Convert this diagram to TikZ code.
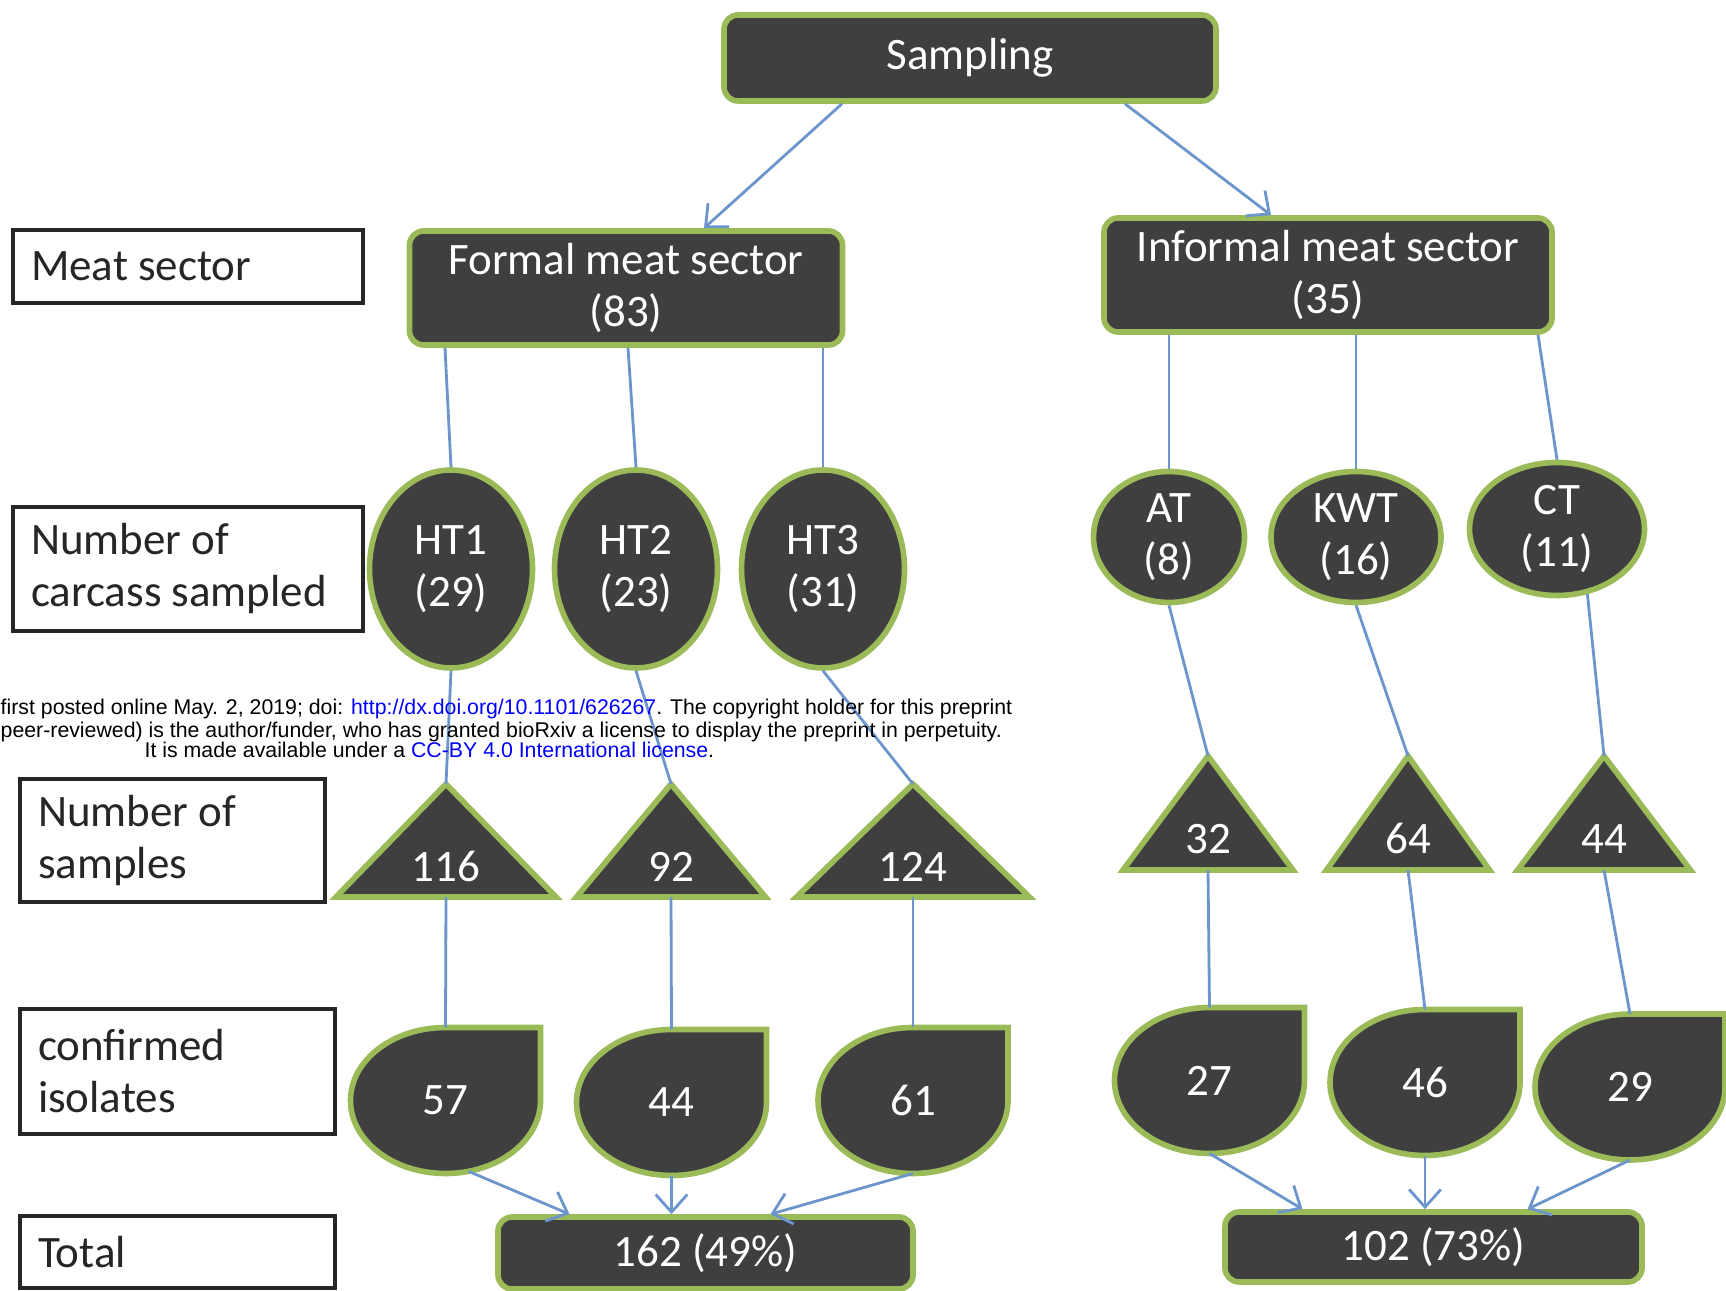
\documentclass[tikz,border=0pt]{standalone}
\usepackage{fontspec}
\setmainfont{Carlito}
\newfontfamily\wmfont{Liberation Sans}
\usetikzlibrary{calc,backgrounds,shapes.geometric,arrows.meta}

\definecolor{boxfill}{HTML}{3F3F3F}
\definecolor{boxrim}{HTML}{9BBB59}
\definecolor{linkblue}{HTML}{6C95CB}
\definecolor{labelink}{HTML}{262626}
\definecolor{wmblue}{HTML}{0000FF}

\newcommand{\nodefont}{\fontsize{12.8}{14.8}\selectfont}

\tikzset{
  dark/.style={fill=boxfill, draw=boxrim, line width=1.6pt},
  darkbox/.style={dark, rectangle, rounded corners=4pt, align=center,
    inner sep=0pt, text=white, font=\nodefont},
  site/.style={dark, ellipse, inner sep=0pt, align=center, text=white, font=\nodefont},
  tri/.style={rectangle, inner sep=0pt, outer sep=0pt, text height=0.82cm,
    text depth=0pt, text=white, font=\nodefont},
  drop/.style={ellipse, inner sep=0pt, outer sep=0pt, minimum width=1.9cm,
    minimum height=1.46cm, text=white, font=\nodefont},
  rowlabel/.style={draw=labelink, line width=1pt, fill=white, text=labelink,
    align=flush left, inner xsep=0.18cm, inner ysep=0pt, font=\nodefont,
    execute at begin node={\spaceskip=0pt\xspaceskip=0pt\relax}},
  link/.style={draw=linkblue, line width=0.8pt},
  arr/.style={link, -{Straight Barb[length=5pt,width=9pt]}},
  wmark/.style={inner sep=0pt, anchor=base west, font=\wmfont\fontsize{6.06}{7}\selectfont}
}

\begin{document}
\begin{tikzpicture}
\useasboundingbox (0,0) rectangle (17.26,12.90);

% top of the tree
\node[darkbox, minimum width=4.92cm, minimum height=0.86cm] (sampling) at (9.70,12.32) {Sampling};
\node[darkbox, minimum width=4.33cm, minimum height=1.14cm] (formal) at (6.26,10.02) {Formal meat sector\\(83)};
\node[darkbox, minimum width=4.48cm, minimum height=1.14cm] (informal) at (13.28,10.15) {Informal meat sector\\(35)};

% row labels on the left
\node[rowlabel, text width=3.14cm, minimum height=0.73cm] (lab-sector) at (1.88,10.235) {Meat sector};
\node[rowlabel, text width=3.14cm, minimum height=1.24cm] (lab-carcass) at (1.88,7.21) {Number of\\carcass sampled};
\node[rowlabel, text width=2.69cm, minimum height=1.23cm] (lab-samples) at (1.725,4.495) {Number of\\samples};
\node[rowlabel, text width=2.79cm, minimum height=1.25cm] (lab-isolates) at (1.775,2.185) {confirmed\\isolates};
\node[rowlabel, text width=2.79cm, minimum height=0.72cm] (lab-total) at (1.775,0.38) {Total};

% carcasses per site
\node[site, minimum width=1.63cm, minimum height=1.98cm] (h1) at (4.51,7.21) {HT1\\(29)};
\node[site, minimum width=1.63cm, minimum height=1.98cm] (h2) at (6.36,7.21) {HT2\\(23)};
\node[site, minimum width=1.63cm, minimum height=1.98cm] (h3) at (8.23,7.21) {HT3\\(31)};
\node[site, minimum width=1.51cm, minimum height=1.31cm] (at) at (11.69,7.53) {AT\\(8)};
\node[site, minimum width=1.70cm, minimum height=1.31cm] (kwt) at (13.56,7.53) {KWT\\(16)};
\node[site, minimum width=1.75cm, minimum height=1.33cm] (ct) at (15.57,7.61) {CT\\(11)};

% samples
\node[tri, minimum width=2.20cm, minimum height=1.13cm] (t1) at (4.46,4.495) {116};
\node[tri, minimum width=1.89cm, minimum height=1.13cm] (t2) at (6.71,4.495) {92};
\node[tri, minimum width=2.33cm, minimum height=1.13cm] (t3) at (9.13,4.495) {124};
\node[tri, minimum width=1.70cm, minimum height=1.14cm] (t4) at (12.08,4.77) {32};
\node[tri, minimum width=1.63cm, minimum height=1.14cm] (t5) at (14.08,4.77) {64};
\node[tri, minimum width=1.73cm, minimum height=1.14cm] (t6) at (16.04,4.77) {44};

% isolates
\node[drop] (d1) at (4.455,1.895) {57};
\node[drop] (d2) at (6.715,1.875) {44};
\node[drop] (d3) at (9.13,1.895) {61};
\node[drop] (d4) at (12.095,2.095) {27};
\node[drop] (d5) at (14.25,2.075) {46};
\node[drop] (d6) at (16.30,2.03) {29};

% totals
\node[darkbox, minimum width=4.15cm, minimum height=0.72cm] (tot1) at (7.055,0.37) {162 (49\%)};
\node[darkbox, minimum width=4.17cm, minimum height=0.70cm] (tot2) at (14.335,0.43) {102 (73\%)};

\begin{scope}[on background layer]
  \foreach \t in {t1,t2,t3,t4,t5,t6}
    \draw[dark] (\t.south west) -- (\t.north) -- (\t.south east) -- cycle;
  \foreach \d in {d1,d2,d3,d4,d5,d6}
    \draw[dark] (\d.north) -- (\d.north -| \d.east) -- (\d.east)
      arc[start angle=0, end angle=-270, x radius=0.95cm, y radius=0.73cm] -- cycle;
\end{scope}

\draw[arr] ($(sampling.south)+(-1.28,0)$) -- ($(formal.north)+(0.78,0)$);
\draw[arr] ($(sampling.south)+(1.55,0)$) -- ($(informal.north)+(-0.57,0)$);

\draw[link] ($(formal.south -| h1.north)+(-0.06,0)$) -- (h1.north);
\draw[link] ($(formal.south -| h2.north)+(-0.08,0)$) -- (h2.north);
\draw[link] (formal.south -| h3.north) -- (h3.north);
\draw[link] (informal.south -| at.north) -- (at.north);
\draw[link] (informal.south -| kwt.north) -- (kwt.north);
\draw[link] ($(informal.south -| ct.north)+(-0.19,0)$) -- (ct.north);

\draw[link] (h1.south) -- (t1.north);
\draw[link] (h2.south) -- (t2.north);
\draw[link] (h3.south) -- (t3.north);
\draw[link] (at.south) -- (t4.north);
\draw[link] (kwt.south) -- (t5.north);
\draw[link] (ct.-65) -- (t6.north);

\foreach \i in {1,...,6}
  \draw[link] (t\i.south) -- (d\i.north);

\draw[arr] (d1.-72) -- ($(tot1.north)+(-1.36,0)$);
\draw[arr] (d2.south) -- (d2.south |- tot1.north);
\draw[arr] (d3.south) -- ($(tot1.north)+(0.65,0)$);
\draw[arr] (d4.south) -- ($(tot2.north)+(-1.31,0)$);
\draw[arr] (d5.south) -- (d5.south |- tot2.north);
\draw[arr] (d6.south) -- ($(tot2.north)+(0.94,0)$);

% preprint stamp
\node[wmark] (wm1) at (0,5.75) {first posted online May. 2, 2019; doi: \textcolor{wmblue}{http://dx.doi.org/10.1101/626267}. The copyright holder for this preprint};
\node[wmark] (wm2) at (0,5.525) {peer-reviewed) is the author/funder, who has granted bioRxiv a license to display the preprint in perpetuity.};
\node[wmark] (wm3) at (1.44,5.32) {It is made available under a \textcolor{wmblue}{CC-BY 4.0 International license}.};
\end{tikzpicture}
\end{document}
